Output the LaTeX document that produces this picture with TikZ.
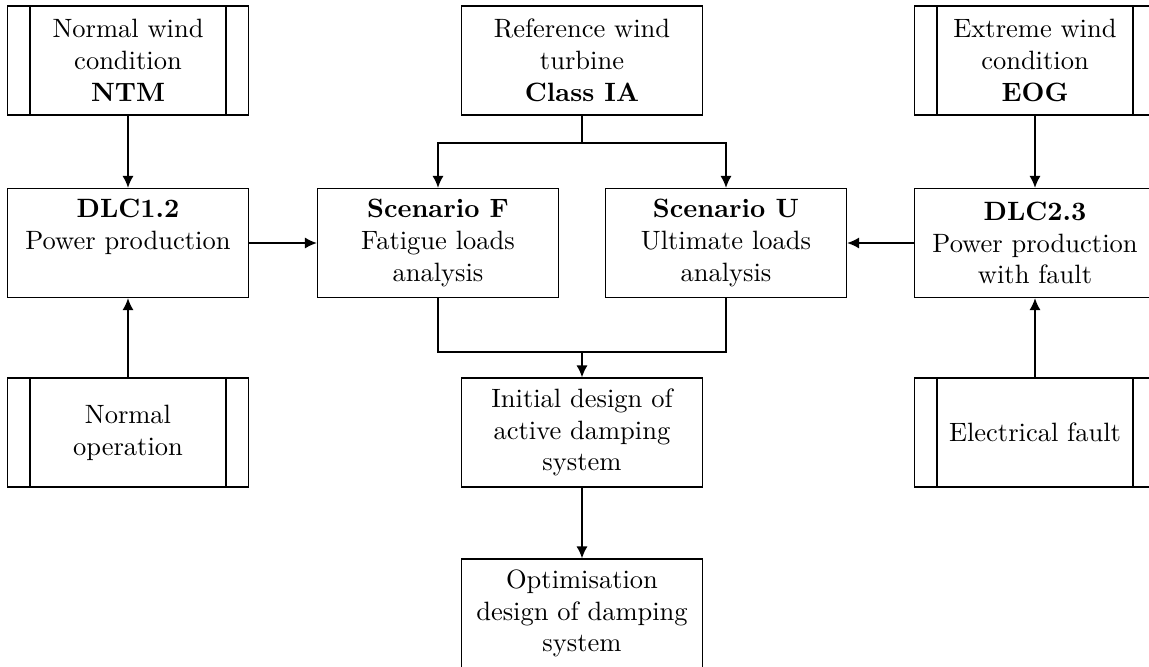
\documentclass[tikz,border=0pt]{standalone}
\usetikzlibrary{arrows.meta}
\begin{document}
\begin{tikzpicture}[x=0.37736pt,y=-0.37736pt,
  line width=0.55pt,
  box/.style={draw,rectangle,minimum width=90.9pt,minimum height=41.1pt,inner sep=0pt,align=center,font=\normalsize},
  dbox/.style={box,path picture={
      \draw ([xshift=8.5pt]path picture bounding box.north west) -- ([xshift=8.5pt]path picture bounding box.south west);
      \draw ([xshift=-8.5pt]path picture bounding box.north east) -- ([xshift=-8.5pt]path picture bounding box.south east);}},
  arr/.style={-{Latex[length=4.5pt,width=4.2pt]}}]
\useasboundingbox (0,0) rectangle (1149,666);
\clip (0,0) rectangle (1149,666);
% top row
\node[dbox] (ntm) at (128,60.5) {Normal wind\\condition\\\textbf{NTM}};
\node[box] (ref) at (582,60.5) {Reference wind\\turbine\\\textbf{Class IA}};
\node[dbox] (eog) at (1035,60.5) {Extreme wind\\condition\\\textbf{EOG}};
% middle row
\node[box] (dlc1) at (128,243) {\textbf{DLC1.2}\\Power production\\\vphantom{analysis}};
\node[box] (scf) at (438,243) {\textbf{Scenario F}\\Fatigue loads\\analysis};
\node[box] (scu) at (726,243) {\textbf{Scenario U}\\Ultimate loads\\analysis};
\node[box] (dlc2) at (1035,243) {\textbf{DLC2.3}\\Power production\\with fault};
% third row
\node[dbox] (nop) at (128,432.5) {Normal\\operation};
\node[box] (init) at (582,432.5) {Initial design of\\active damping\\system};
\node[dbox] (elec) at (1035,432.5) {Electrical fault};
% bottom
\node[box] (opt) at (582,613.5) {Optimisation\\design of damping\\system};
\coordinate (split) at (582,143);
\coordinate (merge) at (582,352);
% connectors
\draw[arr] (ntm.south) -- (dlc1.north);
\draw[arr] (nop.north) -- (dlc1.south);
\draw[arr] (dlc1.east) -- (scf.west);
\draw (ref.south) -- (split);
\draw[arr] (split) -| (scf.north);
\draw[arr] (split) -| (scu.north);
\draw (scf.south) |- (merge) -| (scu.south);
\draw[arr] (merge) -- (init.north);
\draw[arr] (init.south) -- (opt.north);
\draw[arr] (eog.south) -- (dlc2.north);
\draw[arr] (elec.north) -- (dlc2.south);
\draw[arr] (dlc2.west) -- (scu.east);
\end{tikzpicture}
\end{document}
